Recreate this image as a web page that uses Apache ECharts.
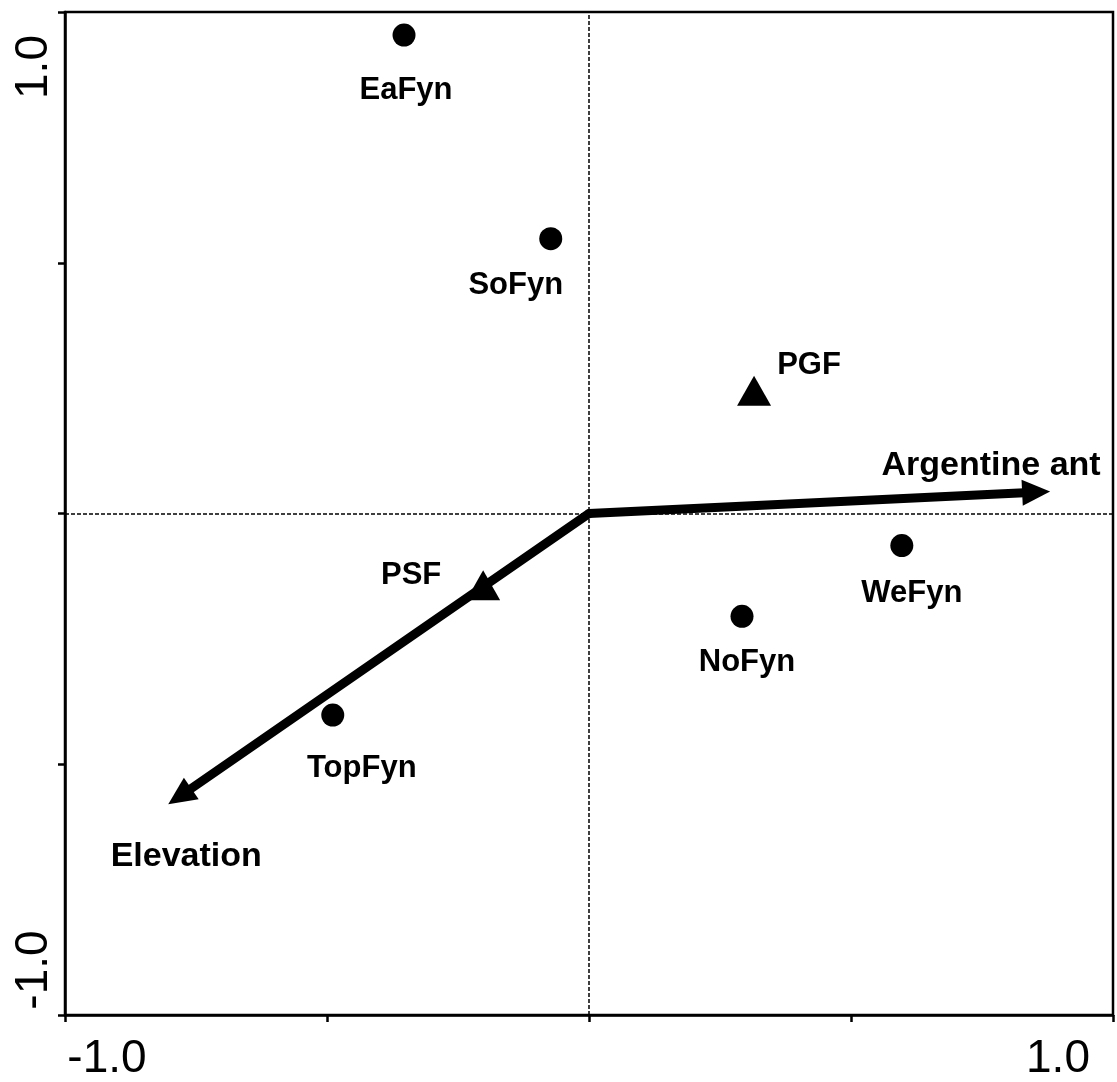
<!DOCTYPE html>
<html>
<head>
<meta charset="utf-8">
<script src="https://cdn.jsdelivr.net/npm/echarts@6/dist/echarts.min.js"></script>
<style>
  html, body { margin: 0; padding: 0; background: #fff; }
  #chart { width: 1117px; height: 1082px; }
</style>
</head>
<body>
<div id="chart"></div>
<script>
// Ordination scores: sampling sites (circles)
const siteNames = ['EaFyn', 'SoFyn', 'WeFyn', 'NoFyn', 'TopFyn'];
const siteX = [-0.353, -0.073, 0.597, 0.292, -0.489];
const siteY = [0.954, 0.548, -0.064, -0.205, -0.402];

// Forest types (triangles)
const forestNames = ['PGF', 'PSF'];
const forestX = [0.315, -0.202];
const forestY = [0.245, -0.143];

// Environmental variables (arrows from the origin)
const envNames = ['Argentine ant', 'Elevation'];
const envX = [0.880, -0.803];
const envY = [0.044, -0.580];

// Axis ticks
const axisMin = -1.0;
const axisMax = 1.0;
const tickStep = 0.5;

// Label placement around each mark, in pixels (dx, dy from the mark centre)
const labelOffsets = {
  EaFyn: [2, 55],
  SoFyn: [-35, 47],
  WeFyn: [10, 48],
  NoFyn: [5, 46],
  TopFyn: [29, 53],
  PGF: [55, -25],
  PSF: [-72, -10]
};
const arrowLabelOffsets = {
  'Argentine ant': [-59, -26],
  'Elevation': [18, 52]
};

const FONT = '"Liberation Sans", Arial, Helvetica, sans-serif';
const LABEL_SIZE = 31;
const ARROW_LABEL_SIZE = 34;

function endLabel(v) {
  if (Math.abs(v - axisMin) < 1e-9) return '{lo|' + v.toFixed(1) + '}';
  if (Math.abs(v - axisMax) < 1e-9) return '{hi|' + v.toFixed(1) + '}';
  return '';
}

const axisLineStyle = { color: '#000', width: 2.5 };

const chart = echarts.init(document.getElementById('chart'), null, { renderer: 'canvas' });

const pointLabel = {
  show: true,
  position: 'inside',
  formatter: '{b}',
  color: '#000',
  opacity: 1,
  fontFamily: FONT,
  fontSize: LABEL_SIZE,
  fontWeight: 'bold'
};

chart.setOption({
  animation: false,
  backgroundColor: '#fff',
  grid: {
    left: 65, right: 4, top: 12, bottom: 65,
    show: true, borderColor: '#000', borderWidth: 2.5, backgroundColor: 'transparent'
  },
  xAxis: {
    type: 'value', min: axisMin, max: axisMax, interval: tickStep,
    axisLine: { show: true, onZero: false, lineStyle: axisLineStyle },
    axisTick: { show: true, inside: false, length: 7, lineStyle: axisLineStyle },
    splitLine: { show: false },
    axisLabel: {
      show: true, margin: 21, color: '#000', fontFamily: FONT, fontSize: 46,
      showMinLabel: true, showMaxLabel: true,
      formatter: endLabel,
      rich: {
        lo: { fontFamily: FONT, fontSize: 46, color: '#000', padding: [0, 0, 0, 84] },
        hi: { fontFamily: FONT, fontSize: 46, color: '#000', padding: [0, 110, 0, 0] }
      }
    }
  },
  yAxis: {
    type: 'value', min: axisMin, max: axisMax, interval: tickStep,
    axisLine: { show: true, onZero: false, lineStyle: axisLineStyle },
    axisTick: { show: true, inside: false, length: 7, lineStyle: axisLineStyle },
    splitLine: { show: false },
    axisLabel: {
      show: true, rotate: 90, margin: 8, color: '#000', fontFamily: FONT, fontSize: 46,
      showMinLabel: true, showMaxLabel: true,
      formatter: endLabel,
      rich: {
        lo: { fontFamily: FONT, fontSize: 46, color: '#000', padding: [0, 0, 0, 90] },
        hi: { fontFamily: FONT, fontSize: 46, color: '#000', padding: [0, 110, 0, 0] }
      }
    }
  },
  series: [
    {
      name: 'Sites',
      type: 'scatter',
      symbol: 'circle',
      symbolSize: 23,
      itemStyle: { color: '#000', opacity: 1 },
      emphasis: { disabled: true },
      label: pointLabel,
      data: siteNames.map((n, i) => ({
        name: n,
        value: [siteX[i], siteY[i]],
        label: { offset: labelOffsets[n] }
      })),
      markLine: {
        silent: true,
        symbol: 'none',
        label: { show: false },
        lineStyle: { color: '#000', width: 1.5, type: [4, 2], opacity: 1 },
        data: [{ xAxis: 0 }, { yAxis: 0 }]
      }
    },
    {
      name: 'Forest types',
      type: 'scatter',
      symbol: 'triangle',
      symbolSize: [34, 30],
      itemStyle: { color: '#000', opacity: 1 },
      emphasis: { disabled: true },
      label: pointLabel,
      data: forestNames.map((n, i) => ({
        name: n,
        value: [forestX[i], forestY[i]],
        label: { offset: labelOffsets[n] }
      }))
    },
    {
      name: 'Environmental variables',
      type: 'custom',
      z: 10,
      clip: false,
      silent: true,
      encode: { x: 0, y: 1 },
      data: envNames.map((n, i) => [envX[i], envY[i]]),
      renderItem: function (params, api) {
        const tip = api.coord([api.value(0), api.value(1)]);
        const o = api.coord([0, 0]);
        const dx = tip[0] - o[0], dy = tip[1] - o[1];
        const len = Math.hypot(dx, dy);
        const ux = dx / len, uy = dy / len;
        const headLen = 28, headHalf = 13;
        const bx = tip[0] - ux * headLen, by = tip[1] - uy * headLen;
        const name = envNames[params.dataIndex];
        const off = arrowLabelOffsets[name];
        return {
          type: 'group',
          children: [
            {
              type: 'line',
              shape: { x1: o[0], y1: o[1], x2: bx + ux * 2, y2: by + uy * 2 },
              style: { stroke: '#000', lineWidth: 9, lineCap: 'round' }
            },
            {
              type: 'polygon',
              shape: {
                points: [
                  [tip[0], tip[1]],
                  [bx - uy * headHalf, by + ux * headHalf],
                  [bx + uy * headHalf, by - ux * headHalf]
                ]
              },
              style: { fill: '#000' }
            },
            {
              type: 'text',
              x: tip[0] + off[0],
              y: tip[1] + off[1],
              style: {
                text: name,
                fill: '#000',
                font: 'bold ' + ARROW_LABEL_SIZE + 'px ' + FONT,
                align: 'center',
                verticalAlign: 'middle'
              }
            }
          ]
        };
      }
    }
  ]
});
</script>
</body>
</html>
